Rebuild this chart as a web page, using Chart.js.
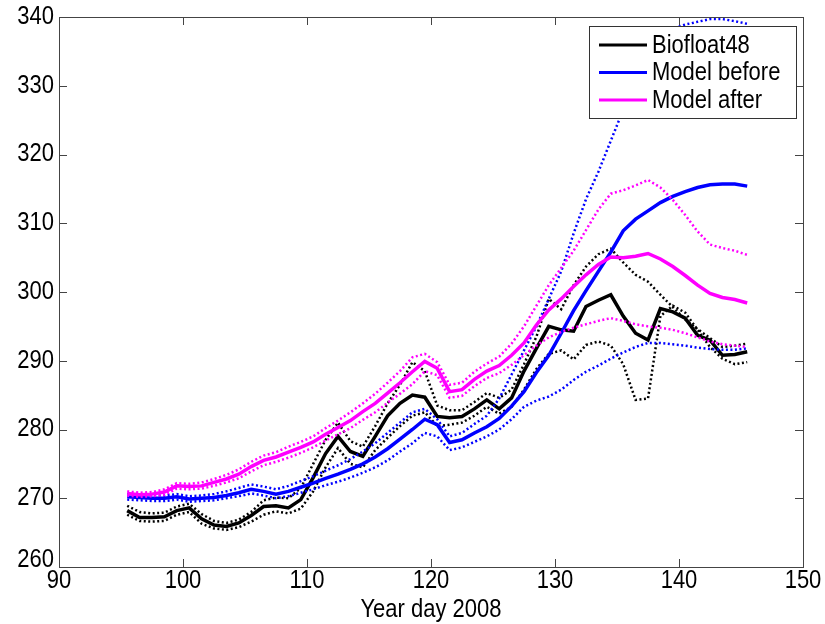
<!DOCTYPE html>
<html lang="en">
<head>
    <meta charset="UTF-8">
    <title>Year day 2008</title>
    <script src="https://cdn.jsdelivr.net/npm/chart.js"></script>
    <style>
        body {
            margin: 0;
            background-color: white;
        }
        .chart-box {
            width: 825px;
            height: 624px;
        }
    </style>
</head>
<body>
    <div class="chart-box">
        <canvas id="floatChart" width="825" height="624"></canvas>
    </div>

    <script>
        // Year days (x) and the values
        const days = [95.5, 96.5, 97.5, 98.5, 99.5, 100.5, 101.5, 102.5, 103.5, 104.5,
            105.5, 106.5, 107.5, 108.5, 109.5, 110.5, 111.5, 112.5, 113.5, 114.5,
            115.5, 116.5, 117.5, 118.5, 119.5, 120.5, 121.5, 122.5, 123.5, 124.5,
            125.5, 126.5, 127.5, 128.5, 129.5, 130.5, 131.5, 132.5, 133.5, 134.5,
            135.5, 136.5, 137.5, 138.5, 139.5, 140.5, 141.5, 142.5, 143.5, 144.5, 145.5];

        const biofloat = [268.2, 267.2, 267.2, 267.3, 268.2, 268.6, 267.0, 266.1, 265.9, 266.4,
            267.5, 268.8, 268.9, 268.6, 269.8, 273.0, 276.5, 279.0, 276.8, 276.1,
            279.0, 282.0, 283.8, 285.0, 284.7, 281.9, 281.7, 281.9, 283.0, 284.3,
            283.0, 284.6, 288.5, 291.8, 295.0, 294.5, 294.3, 297.9, 298.8, 299.6,
            296.5, 294.0, 293.0, 297.6, 297.1, 296.2, 293.7, 293.0, 290.8, 290.9, 291.3];
        const biofloatHigh = [268.9, 268.0, 267.8, 267.9, 268.8, 269.2, 267.7, 266.7, 266.4, 266.9,
            268.0, 269.7, 270.1, 270.0, 271.5, 275.0, 278.5, 281.0, 278.3, 277.5,
            280.5, 283.8, 286.5, 289.8, 288.5, 283.5, 282.8, 282.8, 284.0, 285.3,
            284.6, 285.8, 289.5, 293.5, 299.0, 297.5, 301.0, 303.7, 305.5, 306.3,
            304.3, 302.5, 301.5, 299.6, 297.8, 296.0, 294.6, 293.3, 292.0, 292.2, 292.5];
        const biofloatLow = [267.6, 266.7, 266.6, 266.7, 267.6, 268.0, 266.3, 265.6, 265.4, 265.8,
            266.6, 267.6, 268.1, 267.8, 268.5, 271.0, 274.5, 277.3, 275.0, 274.5,
            277.0, 278.8, 280.5, 282.0, 282.5, 280.5, 280.7, 281.0, 282.0, 283.3,
            282.3, 283.3, 285.8, 288.8, 291.0, 291.5, 290.2, 292.3, 292.8, 292.2,
            289.5, 284.3, 284.5, 296.5, 298.0, 297.0, 294.5, 292.0, 290.3, 289.5, 289.8];

        const modelBefore = [270.2, 270.1, 270.0, 270.0, 270.2, 269.9, 270.0, 270.1, 270.4, 270.8,
            271.3, 271.0, 270.6, 271.0, 271.6, 272.2, 272.9, 273.5, 274.2, 275.0,
            276.0, 277.2, 278.6, 280.0, 281.5, 280.7, 278.1, 278.5, 279.5, 280.4,
            281.6, 283.4, 285.5, 288.3, 290.8, 294.0, 297.3, 300.2, 303.0, 305.8,
            308.9, 310.6, 311.8, 313.0, 313.9, 314.6, 315.2, 315.6, 315.7, 315.7, 315.4];
        const modelBeforeHigh = [270.6, 270.5, 270.4, 270.4, 270.6, 270.3, 270.4, 270.6, 271.0, 271.5,
            272.0, 271.7, 271.3, 271.8, 272.5, 273.2, 274.0, 274.8, 275.7, 276.8,
            278.0, 279.5, 281.0, 282.5, 283.0, 281.5, 279.0, 279.5, 280.8, 282.0,
            284.5, 288.0, 291.5, 295.0, 299.0, 303.0, 308.5, 313.5, 317.5, 322.0,
            326.5, 331.0, 334.5, 337.0, 338.3, 338.9, 339.3, 339.7, 339.7, 339.4, 339.0];
        const modelBeforeLow = [269.8, 269.7, 269.6, 269.6, 269.8, 269.5, 269.6, 269.7, 270.0, 270.3,
            270.7, 270.4, 270.0, 270.3, 270.8, 271.3, 271.9, 272.4, 273.0, 273.7,
            274.5, 275.5, 276.8, 278.0, 279.5, 279.0, 277.0, 277.4, 278.2, 279.0,
            280.0, 281.5, 283.3, 284.2, 284.8, 285.8, 287.2, 288.4, 289.3, 290.3,
            291.2, 292.0, 292.6, 292.6, 292.4, 292.2, 291.9, 291.7, 291.6, 291.6, 291.8];

        const modelAfter = [270.7, 270.5, 270.6, 270.9, 271.8, 271.7, 271.8, 272.3, 272.8, 273.5,
            274.6, 275.5, 276.0, 276.7, 277.4, 278.2, 279.3, 280.3, 281.3, 282.6,
            283.8, 285.3, 286.8, 288.4, 289.9, 288.9, 285.5, 285.8, 287.3, 288.5,
            289.3, 290.8, 292.6, 295.2, 297.4, 299.0, 300.8, 302.5, 304.0, 305.1,
            305.0, 305.2, 305.6, 304.8, 303.7, 302.4, 301.0, 299.8, 299.2, 298.9, 298.4];
        const modelAfterHigh = [271.0, 270.8, 270.9, 271.3, 272.2, 272.1, 272.3, 272.8, 273.4, 274.2,
            275.3, 276.2, 276.7, 277.5, 278.2, 279.0, 280.2, 281.3, 282.5, 283.8,
            285.2, 286.8, 288.5, 290.5, 291.0, 289.8, 286.5, 286.8, 288.4, 289.6,
            290.6, 292.5, 295.0, 298.0, 301.0, 303.5, 306.0, 309.0, 312.0, 314.3,
            314.8, 315.5, 316.3, 315.2, 313.4, 311.2, 308.8, 306.9, 306.4, 306.0, 305.4];
        const modelAfterLow = [270.4, 270.2, 270.3, 270.5, 271.4, 271.3, 271.4, 271.8, 272.3, 272.9,
            273.9, 274.8, 275.3, 275.9, 276.6, 277.4, 278.4, 279.3, 280.2, 281.4,
            282.5, 283.9, 285.2, 286.6, 288.5, 287.9, 284.6, 284.9, 286.3, 287.5,
            288.2, 289.4, 290.8, 292.2, 293.4, 294.2, 294.8, 295.3, 295.8, 296.2,
            295.8, 295.3, 295.0, 294.8, 294.5, 294.0, 293.4, 292.8, 292.4, 292.2, 292.0];

        const xTicks = [90, 100, 110, 120, 130, 140, 150];
        const yTicks = [260, 270, 280, 290, 300, 310, 320, 330, 340];
        const xTitle = 'Year day 2008';

        const BLACK = '#000000';
        const BLUE = '#0000ff';
        const MAGENTA = '#ff00ff';
        const FONT = '"Liberation Sans", Arial, sans-serif';
        const STRETCH = 1.15;   // the figure's text is a little taller than it is wide

        function points(values) {
            return values.map((v, i) => ({ x: days[i], y: v }));
        }

        function solid(label, values, color, order) {
            return {
                label: label,
                data: points(values),
                borderColor: color,
                borderWidth: 3.5,
                pointRadius: 0,
                order: order
            };
        }

        function dotted(values, color, order) {
            return {
                label: '',
                data: points(values),
                borderColor: color,
                borderWidth: 2.5,
                borderDash: [2, 2.5],
                pointRadius: 0,
                order: order,
                inLegend: false
            };
        }

        function tallText(ctx, text, x, y, align) {
            ctx.save();
            ctx.translate(x, y);
            ctx.scale(1, STRETCH);
            ctx.textAlign = align;
            ctx.textBaseline = 'middle';
            ctx.fillText(text, 0, 0);
            ctx.restore();
        }

        // Box round the plot, inward ticks on all four sides and the tick labels
        const frameTicks = {
            id: 'frameTicks',
            afterDatasetsDraw(chart) {
                const ctx = chart.ctx;
                const a = chart.chartArea;
                const xs = chart.scales.x, ys = chart.scales.y;
                const len = 8;
                ctx.save();
                ctx.strokeStyle = '#444';
                ctx.lineWidth = 1;
                ctx.beginPath();
                xTicks.forEach(t => {
                    const px = Math.round(xs.getPixelForValue(t)) + 0.5;
                    ctx.moveTo(px, a.bottom); ctx.lineTo(px, a.bottom - len);
                    ctx.moveTo(px, a.top); ctx.lineTo(px, a.top + len);
                });
                yTicks.forEach(t => {
                    const py = Math.round(ys.getPixelForValue(t)) + 0.5;
                    ctx.moveTo(a.left, py); ctx.lineTo(a.left + len, py);
                    ctx.moveTo(a.right, py); ctx.lineTo(a.right - len, py);
                });
                ctx.stroke();
                ctx.strokeRect(Math.round(a.left) + 0.5, Math.round(a.top) + 0.5,
                    Math.round(a.right - a.left), Math.round(a.bottom - a.top));

                ctx.fillStyle = '#000';
                ctx.font = '22px ' + FONT;
                yTicks.forEach(t => {
                    // bottom label sits a little higher so it clears the x labels
                    const shift = t === yTicks[0] ? -7 : 0;
                    tallText(ctx, String(t), a.left - 5, ys.getPixelForValue(t) + shift, 'right');
                });
                xTicks.forEach(t => tallText(ctx, String(t), xs.getPixelForValue(t), a.bottom + 14, 'center'));
                tallText(ctx, xTitle, (a.left + a.right) / 2, a.bottom + 43, 'center');
                ctx.restore();
            }
        };

        // Legend box in the upper right corner
        const boxLegend = {
            id: 'boxLegend',
            afterDraw(chart) {
                const ctx = chart.ctx;
                const items = chart.data.datasets.filter(d => d.inLegend !== false);
                const left = 589, top = 26, w = 207, h = 92;
                ctx.save();
                ctx.fillStyle = '#fff';
                ctx.fillRect(left, top, w, h);
                ctx.strokeStyle = '#333';
                ctx.lineWidth = 1;
                ctx.strokeRect(left + 0.5, top + 0.5, w, h);
                ctx.font = '22px ' + FONT;
                ctx.fillStyle = '#000';
                items.forEach((d, i) => {
                    const y = top + 19 + i * 27.5;
                    ctx.strokeStyle = d.borderColor;
                    ctx.lineWidth = 3;
                    ctx.beginPath();
                    ctx.moveTo(left + 10, y);
                    ctx.lineTo(left + 58, y);
                    ctx.stroke();
                    tallText(ctx, d.label, left + 63, y + 1, 'left');
                });
                ctx.restore();
            }
        };

        new Chart(document.getElementById('floatChart'), {
            type: 'line',
            data: {
                datasets: [
                    solid('Biofloat48', biofloat, BLACK, 9),
                    solid('Model before', modelBefore, BLUE, 6),
                    solid('Model after', modelAfter, MAGENTA, 3),
                    dotted(biofloatHigh, BLACK, 8),
                    dotted(biofloatLow, BLACK, 7),
                    dotted(modelBeforeHigh, BLUE, 5),
                    dotted(modelBeforeLow, BLUE, 4),
                    dotted(modelAfterHigh, MAGENTA, 2),
                    dotted(modelAfterLow, MAGENTA, 1)
                ]
            },
            plugins: [frameTicks, boxLegend],
            options: {
                responsive: false,
                animation: false,
                layout: {
                    padding: { top: 17, right: 22, bottom: 0, left: 0 }
                },
                plugins: {
                    legend: { display: false },
                    tooltip: { enabled: false }
                },
                scales: {
                    x: {
                        type: 'linear',
                        min: 90,
                        max: 150,
                        afterBuildTicks: s => { s.ticks = xTicks.map(v => ({ value: v })); },
                        afterFit: s => { s.height = 57; },
                        grid: { display: false },
                        border: { display: false },
                        ticks: { display: false }
                    },
                    y: {
                        min: 260,
                        max: 340,
                        afterBuildTicks: s => { s.ticks = yTicks.map(v => ({ value: v })); },
                        afterFit: s => { s.width = 59; },
                        grid: { display: false },
                        border: { display: false },
                        ticks: { display: false }
                    }
                }
            }
        });
    </script>
</body>
</html>
